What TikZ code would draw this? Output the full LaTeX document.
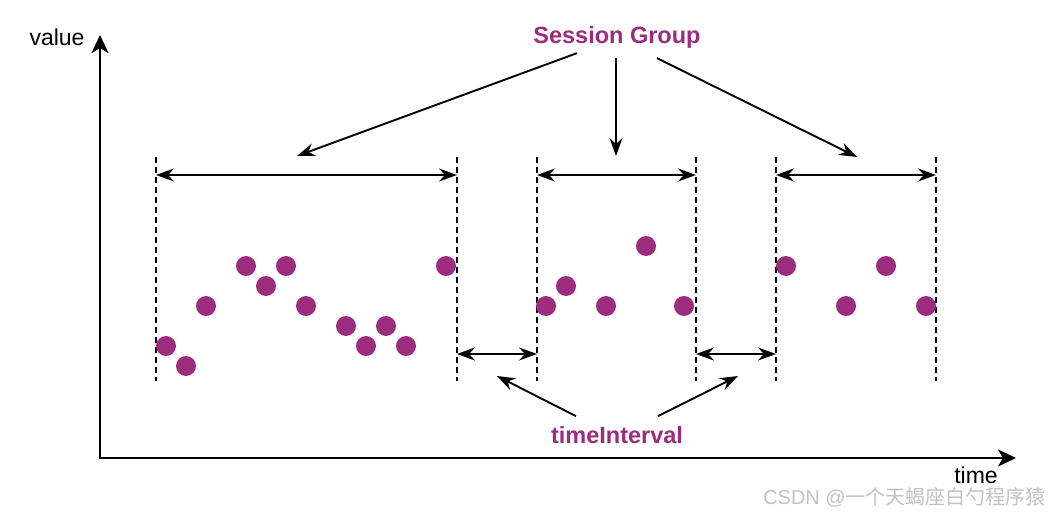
\documentclass[tikz,border=0pt]{standalone}
\usepackage{fontspec}
\setmainfont{Liberation Sans}
\newfontfamily\cjk{Noto Sans CJK SC}
\usepackage{tikz}
\usetikzlibrary{arrows.meta}
\definecolor{SessionInk}{HTML}{9B2C7E}
\definecolor{MarkGray}{HTML}{C2C2C2}

\begin{document}
\begin{tikzpicture}[
  x=1pt,y=-1pt,
  axis/.style={line width=2pt,{Stealth[length=18pt,width=17pt,inset=5pt]}-{Stealth[length=18pt,width=17pt,inset=5pt]}},
  span/.style={line width=1.9pt,{Stealth[length=18pt,width=13pt,inset=6pt]}-{Stealth[length=18pt,width=13pt,inset=6pt]}},
  pointer/.style={line width=1.9pt,-{Stealth[length=18pt,width=13pt,inset=6pt]}},
  border/.style={line width=2pt,dash pattern=on 6pt off 4pt},
  sample/.style={circle,fill=SessionInk,inner sep=0pt,minimum size=20pt},
  caption/.style={font=\bfseries\fontsize{23.5}{26}\selectfont,text=SessionInk,inner sep=0pt},
  axislabel/.style={font=\fontsize{23}{26}\selectfont,inner sep=0pt},
]
  \useasboundingbox[fill=white] (0,0) rectangle (1050,514);

  \coordinate (origin) at (100,458);
  \coordinate (ytip) at (100,35);
  \coordinate (xtip) at (1016,458);
  \draw[axis] (ytip) -- (origin) -- (xtip);
  \node[axislabel] (value) at (57,37) {value};
  \node[axislabel] (time) at (976,475) {time};

  \foreach \x [count=\i] in {156,457,537,696,776,936} {
    \coordinate (top\i) at (\x,157);
    \coordinate (bot\i) at (\x,381);
    \coordinate (mark\i) at (\x,175);
    \coordinate (gap\i) at (\x,354);
    \draw[border] (top\i) -- (bot\i);
  }

  \draw[span] (mark1) -- (mark2);
  \draw[span] (mark3) -- (mark4);
  \draw[span] (mark5) -- (mark6);
  \draw[span] (gap2) -- (gap3);
  \draw[span] (gap4) -- (gap5);

  \foreach \px/\py [count=\n] in {166/346,186/366,206/306,246/266,266/286,286/266,306/306,346/326,366/346,386/326,406/346,446/266,
    546/306,566/286,606/306,646/246,684/306,
    786/266,846/306,886/266,926/306}
    \node[sample] (dot\n) at (\px,\py) {};

  \node[caption] (group) at (617,37) {Session Group};
  \coordinate (aim1) at (297,156);
  \coordinate (aim2) at (616,156);
  \coordinate (aim3) at (857,157);
  \draw[pointer] ([xshift=-40pt,yshift=-5pt]group.south) -- (aim1);
  \draw[pointer] ([xshift=-1pt,yshift=-10pt]group.south) -- (aim2);
  \draw[pointer] ([xshift=40pt,yshift=-10pt]group.south) -- (aim3);

  \node[caption] (interval) at (617,435) {timeInterval};
  \coordinate (hint1) at (497,376);
  \coordinate (hint2) at (738,376);
  \draw[pointer] ([xshift=-41pt,yshift=10pt]interval.north) -- (hint1);
  \draw[pointer] ([xshift=41pt,yshift=10pt]interval.north) -- (hint2);

  \node[anchor=east,text=MarkGray,inner sep=0pt,font=\fontsize{20}{22}\selectfont] (watermark) at (1046,497) {CSDN @{\cjk 一个天蝎座白勺程序猿}};
\end{tikzpicture}
\end{document}
